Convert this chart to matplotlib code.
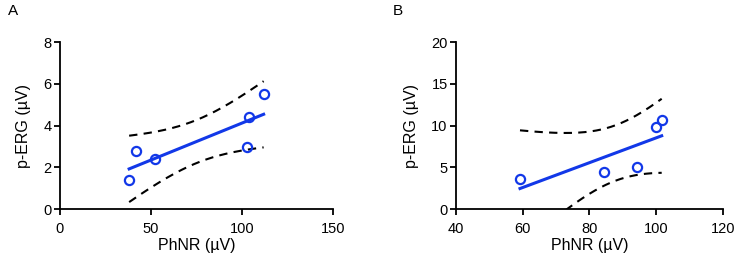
import numpy as np
import matplotlib
matplotlib.use('Agg')
import matplotlib.pyplot as plt

plt.rcParams['font.family'] = ['Liberation Sans', 'DejaVu Sans']

# panel A: PhNR vs p-ERG
phnr_a = [38.0, 41.5, 52.1, 102.8, 104.0, 111.9]
perg_a = [1.39, 2.79, 2.38, 2.97, 4.39, 5.49]
# panel B
phnr_b = [59.2, 84.5, 94.3, 100.0, 101.7]
perg_b = [3.56, 4.48, 5.08, 9.84, 10.68]

# two-sided 95% t values for df = n - 2
t95 = {3: 3.182, 4: 2.776}

blue = '#1238e8'


def fit_band(x, y):
    x = np.asarray(x)
    y = np.asarray(y)
    n = len(x)
    slope, icpt = np.polyfit(x, y, 1)
    res = y - (slope * x + icpt)
    s = np.sqrt(np.sum(res ** 2) / (n - 2))
    sxx = np.sum((x - x.mean()) ** 2)
    xs = np.linspace(x.min(), x.max(), 200)
    yfit = slope * xs + icpt
    se = s * np.sqrt(1.0 / n + (xs - x.mean()) ** 2 / sxx)
    half = t95[n - 2] * se
    return xs, yfit, yfit - half, yfit + half


def draw(ax, x, y, xlim, xticks, ylim, yticks):
    xs, yfit, lo, hi = fit_band(x, y)
    ax.plot(xs, hi, color='k', ls=(0, (4, 3)), lw=1.5)
    ax.plot(xs, lo, color='k', ls=(0, (4, 3)), lw=1.5)
    ax.plot(xs, yfit, color=blue, lw=2.2)
    ax.plot(x, y, ls='none', marker='o', ms=6.6, mfc='none', mec=blue, mew=1.6, clip_on=False)
    ax.set_xlim(xlim)
    ax.set_ylim(ylim)
    ax.set_xticks(xticks)
    ax.set_yticks(yticks)
    for s in ['top', 'right']:
        ax.spines[s].set_visible(False)
    for s in ['left', 'bottom']:
        ax.spines[s].set_linewidth(1.3)
    ax.tick_params(direction='out', length=4, width=1.3, labelsize=10.5)
    ax.tick_params(axis='x', pad=5)
    ax.tick_params(axis='y', pad=2)
    ax.set_xlabel('PhNR (µV)', fontsize=11.5, labelpad=2)
    ax.set_ylabel('p-ERG (µV)', fontsize=11.5, labelpad=9)


fig = plt.figure(figsize=(7.37, 2.61), dpi=100)
ax1 = fig.add_axes([0.0814, 0.199, 0.3704, 0.640])
ax2 = fig.add_axes([0.6187, 0.199, 0.3619, 0.640])

draw(ax1, phnr_a, perg_a, (0, 150), [0, 50, 100, 150], (0, 8), [0, 2, 4, 6, 8])
draw(ax2, phnr_b, perg_b, (40, 120), [40, 60, 80, 100, 120], (0, 20), [0, 5, 10, 15, 20])

fig.text(8 / 737, 1 - 4 / 261, 'A', fontsize=11, va='top', ha='left')
fig.text(393 / 737, 1 - 4 / 261, 'B', fontsize=11, va='top', ha='left')

fig.savefig('out.png', dpi=100)
